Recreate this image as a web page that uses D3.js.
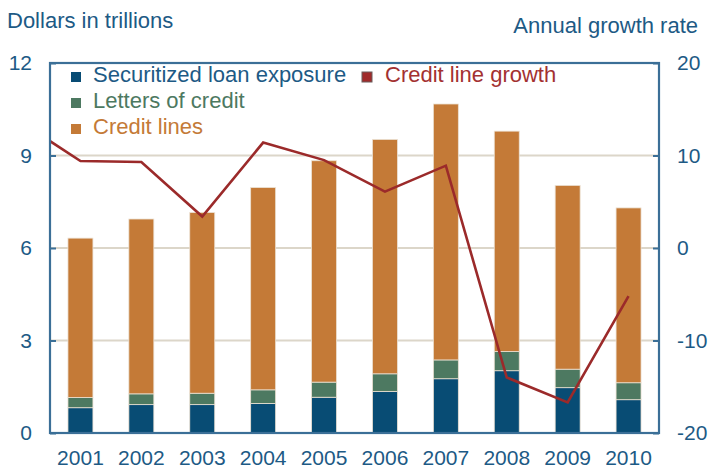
<!DOCTYPE html>
<html>
<head>
<meta charset="utf-8">
<script src="https://cdn.jsdelivr.net/npm/d3@7"></script>
<style>
  html, body { margin: 0; padding: 0; background: #fff; }
  svg { display: block; font-family: "Liberation Sans", Arial, Helvetica, sans-serif; }
</style>
</head>
<body>
<svg id="chart" width="710" height="470"></svg>
<script>
// Bank off-balance-sheet commitments, trillions of dollars
const years = ["2001", "2002", "2003", "2004", "2005", "2006", "2007", "2008", "2009", "2010"];
const securitized = [0.82, 0.92, 0.92, 0.96, 1.16, 1.35, 1.76, 2.02, 1.47, 1.08];
const lettersOfCredit = [0.33, 0.35, 0.37, 0.44, 0.49, 0.57, 0.61, 0.62, 0.60, 0.55];
const creditLines = [5.17, 5.67, 5.86, 6.56, 7.18, 7.60, 8.30, 7.15, 5.96, 5.67];

// Annual growth rate of credit lines, percent (series begins in 2000)
const growthYears = ["2000", "2001", "2002", "2003", "2004", "2005", "2006", "2007", "2008", "2009", "2010"];
const growth = [13.7, 9.4, 9.3, 3.4, 11.4, 9.5, 6.1, 8.9, -14.0, -16.7, -5.2];

const leftTicks = [0, 3, 6, 9, 12];
const rightTicks = [-20, -10, 0, 10, 20];

const seriesKeys = ["securitized", "letters", "lines"];
const seriesLabels = ["Securitized loan exposure", "Letters of credit", "Credit lines"];
const seriesColors = ["#084c74", "#4d7961", "#c47a37"];
const lineColor = "#9b2a2a";
const textBlue = "#1d5a85";
const axisBlue = "#3b6f97";

const plot = { left: 50, right: 659, top: 63, bottom: 433 };

const svg = d3.select("#chart");

const x = d3.scaleBand()
  .domain(years)
  .range([plot.left, plot.right])
  .paddingInner(0.59)
  .paddingOuter(0.295);

const yLeft = d3.scaleLinear().domain([0, 12]).range([plot.bottom, plot.top]);
const yRight = d3.scaleLinear().domain([-20, 20]).range([plot.bottom, plot.top]);

// Gridlines
svg.append("g")
  .selectAll("line")
  .data(leftTicks.filter(t => t > 0 && t < 12))
  .join("line")
  .attr("x1", plot.left).attr("x2", plot.right)
  .attr("y1", d => yLeft(d)).attr("y2", d => yLeft(d))
  .attr("stroke", "#dcd6c9").attr("stroke-width", 2);

// Stacked bars
const table = years.map((yr, i) => ({
  year: yr,
  securitized: securitized[i],
  letters: lettersOfCredit[i],
  lines: creditLines[i]
}));
const stacked = d3.stack().keys(seriesKeys)(table);

svg.append("g")
  .selectAll("g")
  .data(stacked)
  .join("g")
  .attr("fill", (d, i) => seriesColors[i])
  .selectAll("rect")
  .data(d => d)
  .join("rect")
  .attr("x", d => x(d.data.year))
  .attr("width", x.bandwidth())
  .attr("y", d => yLeft(d[1]))
  .attr("height", d => yLeft(d[0]) - yLeft(d[1]))
  .attr("stroke", "#ece2d4")
  .attr("stroke-width", 0.8);

// Growth line, clipped to the plot frame
svg.append("clipPath").attr("id", "plot-clip")
  .append("rect")
  .attr("x", plot.left).attr("y", plot.top)
  .attr("width", plot.right - plot.left).attr("height", plot.bottom - plot.top);

const step = x.step();
const lineX = yr => {
  const pos = x(yr);
  if (pos !== undefined) return pos + x.bandwidth() / 2;
  return x(years[0]) + x.bandwidth() / 2 - step * (+years[0] - +yr);
};

const line = d3.line()
  .x((d, i) => lineX(growthYears[i]))
  .y(d => yRight(d));

svg.append("path")
  .datum(growth)
  .attr("clip-path", "url(#plot-clip)")
  .attr("fill", "none")
  .attr("stroke", lineColor)
  .attr("stroke-width", 2.6)
  .attr("stroke-linejoin", "miter")
  .attr("d", line);

// Axes
const plainNumber = d => String(d);
const leftAxis = d3.axisLeft(yLeft).tickValues(leftTicks).tickSize(-6).tickPadding(18).tickFormat(plainNumber);
const rightAxis = d3.axisRight(yRight).tickValues(rightTicks).tickSize(-6).tickPadding(18).tickFormat(plainNumber);
const bottomAxis = d3.axisBottom(x).tickSize(0).tickPadding(17);

function styleAxis(g, anchor) {
  g.select(".domain").remove();
  g.selectAll(".tick line").attr("stroke", axisBlue).attr("stroke-width", 2);
  g.selectAll(".tick text")
    .attr("fill", textBlue)
    .attr("font-size", 21)
    .attr("font-family", "Liberation Sans, Arial, sans-serif");
  if (anchor) g.selectAll(".tick text").attr("text-anchor", anchor);
}

svg.append("g")
  .attr("transform", `translate(${plot.left},0)`)
  .call(leftAxis)
  .call(g => styleAxis(g, "end"));

svg.append("g")
  .attr("transform", `translate(${plot.right},0)`)
  .call(rightAxis)
  .call(g => styleAxis(g, "start"));

svg.append("g")
  .attr("transform", `translate(0,${plot.bottom})`)
  .call(bottomAxis)
  .call(g => styleAxis(g, null));

// Frame
svg.append("rect")
  .attr("x", plot.left).attr("y", plot.top)
  .attr("width", plot.right - plot.left).attr("height", plot.bottom - plot.top)
  .attr("fill", "none")
  .attr("stroke", axisBlue)
  .attr("stroke-width", 2.2);

// Axis titles
svg.append("text")
  .attr("x", 7).attr("y", 27.5)
  .attr("fill", textBlue).attr("font-size", 22)
  .text("Dollars in trillions");

svg.append("text")
  .attr("x", 698).attr("y", 33)
  .attr("text-anchor", "end")
  .attr("fill", textBlue).attr("font-size", 22)
  .text("Annual growth rate");

// Legend
const legendTextColors = ["#1d5a85", "#4d7961", "#c47a37"];
const legend = svg.append("g");
seriesLabels.forEach((label, i) => {
  const baseY = 82 + i * 26;
  legend.append("rect")
    .attr("x", 71).attr("y", baseY - 10)
    .attr("width", 10).attr("height", 10)
    .attr("fill", seriesColors[i]);
  legend.append("text")
    .attr("x", 93).attr("y", baseY)
    .attr("fill", legendTextColors[i]).attr("font-size", 22)
    .text(label);
});
legend.append("rect")
  .attr("x", 362).attr("y", 72)
  .attr("width", 10).attr("height", 10)
  .attr("fill", "#a02a2a")
  .attr("stroke", "#6b5d5d").attr("stroke-width", 1);
legend.append("text")
  .attr("x", 385).attr("y", 82)
  .attr("fill", "#a33131").attr("font-size", 22)
  .text("Credit line growth");
</script>
</body>
</html>
